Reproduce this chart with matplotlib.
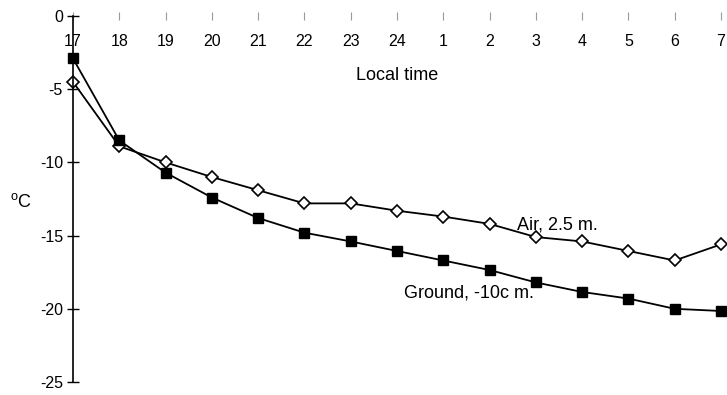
import numpy as np
import matplotlib.pyplot as plt

plt.rcParams['font.family'] = ['Liberation Sans', 'DejaVu Sans']

# hours of local time, 17:00 to 07:00
hours = ['17', '18', '19', '20', '21', '22', '23', '24', '1', '2', '3', '4', '5', '6', '7']
air = np.array([-4.5, -8.9, -10.0, -11.0, -11.9, -12.8, -12.8, -13.3, -13.7, -14.2,
                -15.1, -15.4, -16.05, -16.7, -15.6])
ground = np.array([-2.9, -8.5, -10.7, -12.4, -13.8, -14.8, -15.4, -16.05, -16.7, -17.35,
                   -18.2, -18.85, -19.3, -20.0, -20.15])
yticks = [0, -5, -10, -15, -20, -25]

if __name__ == "__main__":
    fig = plt.figure(figsize=(7.27, 3.95), dpi=100)
    ax = fig.add_axes([73 / 727, 1 - 382 / 395, (721 - 73) / 727, (382 - 16) / 395])
    x = np.arange(len(hours))

    ax.plot(x, air, '-', color='black', lw=1.3, marker='D', markersize=6,
            markerfacecolor='white', markeredgecolor='black', markeredgewidth=1.2, clip_on=False)
    ax.plot(x, ground, '-', color='black', lw=1.3, marker='s', markersize=7.5,
            markerfacecolor='black', markeredgecolor='black', clip_on=False, zorder=3)

    ax.set_xlim(0, 14)
    ax.set_ylim(-25, 0)
    for s in ['top', 'right', 'bottom']:
        ax.spines[s].set_visible(False)
    ax.spines['left'].set_linewidth(1.2)

    ax.set_xticks(x)
    ax.set_xticklabels(hours, fontsize=11.5)
    ax.tick_params(axis='x', bottom=False, top=True, labelbottom=False, labeltop=True,
                   direction='inout', length=6, width=0.8, color='#999999', pad=-27)
    ax.set_yticks(yticks)
    ax.set_yticklabels([str(v) for v in yticks], fontsize=11.5)
    ax.tick_params(axis='y', direction='inout', length=8.5, width=1.0, pad=3)

    ax.annotate('Local time', xy=(397, 395 - 75), xycoords='figure pixels',
                fontsize=13, ha='center', va='center')
    fig.text(10 / 727, 1 - 202 / 395, r'$^\mathregular{o}$C', fontsize=13, ha='left', va='center')
    ax.annotate('Air, 2.5 m.', xy=(517, 395 - 225), xycoords='figure pixels',
                fontsize=13, ha='left', va='center')
    ax.annotate('Ground, -10c m.', xy=(404, 395 - 293), xycoords='figure pixels',
                fontsize=13, ha='left', va='center')

    plt.savefig('out.png')
